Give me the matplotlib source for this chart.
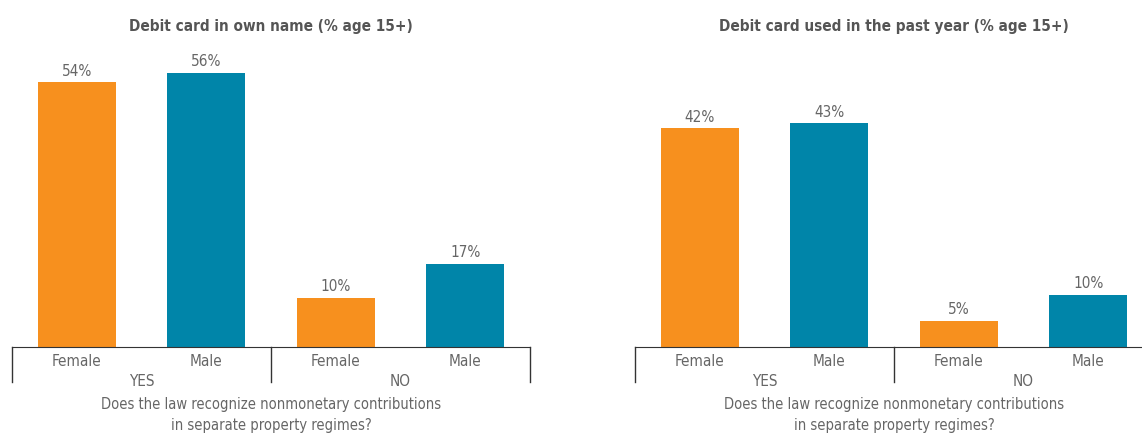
import matplotlib.pyplot as plt
import numpy as np

# datos
sexos = ["Female", "Male", "Female", "Male"]
grupos = ["YES", "NO"]
tarjeta_propia = [54, 56, 10, 17]
tarjeta_usada = [42, 43, 5, 10]

titulos = ["Debit card in own name (% age 15+)",
           "Debit card used in the past year (% age 15+)"]
pregunta = "Does the law recognize nonmonetary contributions\nin separate property regimes?"

colores = ["#F7901E", "#0085A9", "#F7901E", "#0085A9"]
gris = "#666666"
plt.rcParams['font.family'] = ['DejaVu Sans']
plt.rcParams['font.stretch'] = 'condensed'

W, H = 1142, 434
fig = plt.figure(figsize=(W / 100, H / 100), dpi=100)


def panel(x0, valores, ytop, titulo):
    ax = fig.add_axes([x0 / W, 87 / H, 518 / W, 294 / H])
    x = np.arange(len(valores))
    ax.bar(x, valores, width=0.6, color=colores)
    ax.set_xlim(-0.5, 3.5)
    ax.set_ylim(0, ytop)
    for xi, v in zip(x, valores):
        ax.text(xi, v + ytop * 0.012, f"{v}%", ha="center", va="bottom",
                fontsize=11, color=gris)
    for s in ["top", "left", "right"]:
        ax.spines[s].set_visible(False)
    ax.spines["bottom"].set_color("#333333")
    ax.set_yticks([])
    ax.set_xticks(x)
    ax.set_xticklabels(sexos, fontsize=11, color=gris)
    ax.tick_params(axis="x", length=0, pad=5)

    # separadores de grupo
    trans = ax.get_xaxis_transform()
    for b in [-0.5, 1.5, 3.5]:
        ax.plot([b, b], [0, -35 / 294], transform=trans, color="#333333",
                lw=1, clip_on=False)
    for i, g in enumerate(grupos):
        ax.text(0.5 + 2 * i, -34 / 294, g, transform=trans, ha="center",
                va="center", fontsize=11, color=gris)
    ax.text(1.5, -68 / 294, pregunta, transform=trans, ha="center",
            va="center", fontsize=10.5, color=gris, linespacing=1.5)
    ax.text(0.5, 1.0 + 27 / 294, titulo, transform=ax.transAxes,
            ha="center", va="center", fontsize=11, fontweight="bold",
            color="#555555")
    return ax


panel(12, tarjeta_propia, 60, titulos[0])
panel(635, tarjeta_usada, 56.5, titulos[1])

fig.savefig("out.png", dpi=100)
